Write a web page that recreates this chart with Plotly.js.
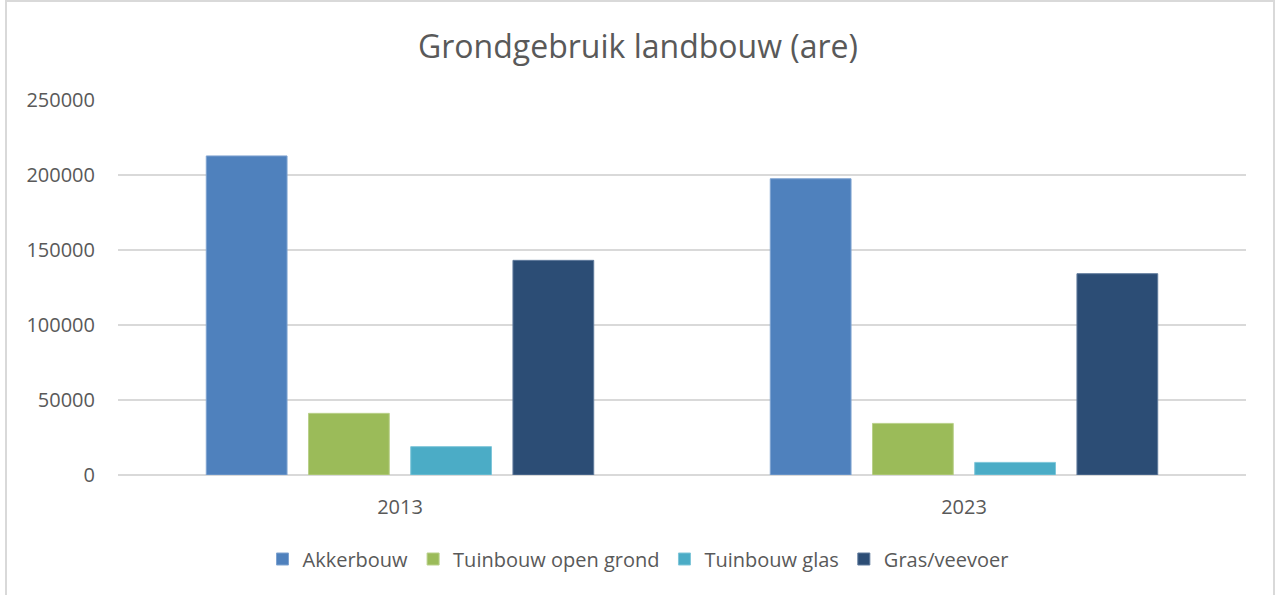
<!DOCTYPE html>
<html>
<head>
<meta charset="utf-8">
<script src="https://cdn.plot.ly/plotly-3.0.1.min.js"></script>
<style>
  html, body { margin: 0; padding: 0; background: #fff; }
  #wrap { position: relative; width: 1276px; height: 595px; overflow: hidden; }
  #chart { position: absolute; left: 0; top: 0; width: 1276px; height: 595px; }
  #frame { position: absolute; left: 5px; top: 0px; width: 1266px; height: 610px;
           border: 2px solid #D9D9D9; pointer-events: none; }
</style>
</head>
<body>
<div id="wrap">
  <div id="chart"></div>
  <div id="frame"></div>
</div>
<script>
const years = ['2013', '2023'];
const seriesNames = ['Akkerbouw', 'Tuinbouw open grond', 'Tuinbouw glas', 'Gras/veevoer'];
const akkerbouw = [212700, 197500];
const tuinbouwOpenGrond = [41100, 34400];
const tuinbouwGlas = [18900, 8400];
const grasVeevoer = [143100, 134200];
const yTickValues = [0, 50000, 100000, 150000, 200000, 250000];
const yTickLabels = ['0', '50000', '100000', '150000', '200000', '250000'];

const colors = ['#4F81BD', '#9BBB59', '#4BACC6', '#2C4D75'];
const lineColors = ['#7FA3D0', '#B9D08A', '#7FC6D9', '#5F7A9C'];
const values = [akkerbouw, tuinbouwOpenGrond, tuinbouwGlas, grasVeevoer];

const traces = seriesNames.map((name, i) => ({
  type: 'bar',
  name: name,
  x: years,
  y: values[i],
  marker: { color: colors[i], line: { color: lineColors[i], width: 1 } },
  hoverinfo: 'x+y+name'
}));

const textColor = '#595959';
const font = 'Open Sans, sans-serif';

const layout = {
  width: 1276,
  height: 595,
  margin: { l: 118, r: 30, t: 100, b: 120, autoexpand: false },
  paper_bgcolor: 'rgba(0,0,0,0)',
  plot_bgcolor: '#ffffff',
  font: { family: font, color: textColor, size: 20 },
  title: {
    text: 'Grondgebruik landbouw (are)',
    font: { family: font, size: 32, color: textColor },
    x: 0.5, xref: 'container', xanchor: 'center',
    y: 1 - 47 / 595, yref: 'container', yanchor: 'middle'
  },
  barmode: 'group',
  bargap: 0.275,
  bargroupgap: 0.21,
  xaxis: {
    type: 'category',
    tickfont: { family: font, size: 20, color: textColor },
    showgrid: false,
    showline: false,
    zeroline: false,
    ticks: '',
    ticklabelstandoff: 18
  },
  yaxis: {
    range: [0, 250000],
    tickvals: yTickValues,
    ticktext: yTickLabels,
    tickfont: { family: font, size: 20, color: textColor },
    showgrid: true,
    gridcolor: '#D9D9D9',
    gridwidth: 1.5,
    zeroline: true,
    zerolinecolor: '#D9D9D9',
    zerolinewidth: 1.5,
    showline: false,
    ticks: '',
    ticklabelstandoff: 22
  },
  showlegend: true,
  legend: {
    orientation: 'h',
    x: (638 - 118) / 1128, xanchor: 'center',
    y: (475 - 559) / 375, yanchor: 'middle',
    font: { family: font, size: 20, color: textColor },
    itemwidth: 30,
    traceorder: 'normal'
  }
};

Plotly.newPlot('chart', traces, layout, { displayModeBar: false, staticPlot: true });
</script>
</body>
</html>
